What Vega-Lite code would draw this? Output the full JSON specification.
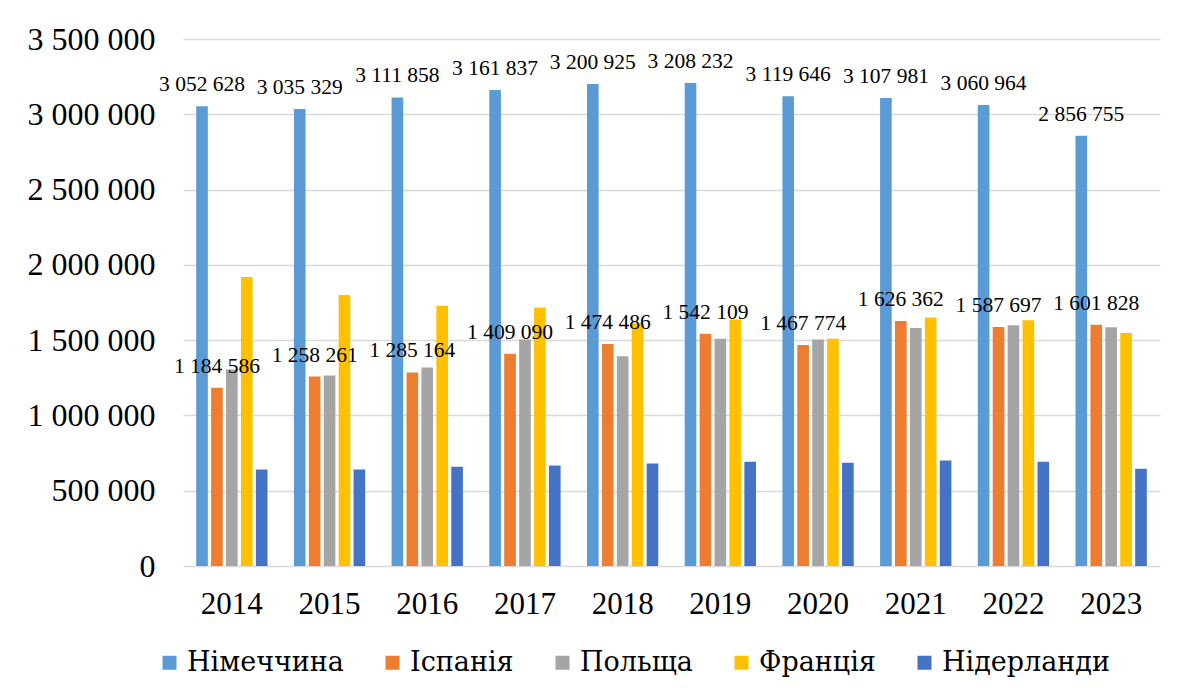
{
  "$schema": "https://vega.github.io/schema/vega-lite/v6.json",
  "width": 977,
  "height": 527,
  "autosize": {"type": "none"},
  "padding": {"left": 183, "top": 39, "right": 27, "bottom": 130},
  "background": "white",
  "config": {
    "locale": {"number": {"decimal": ",", "thousands": " ", "grouping": [3], "currency": ["", ""]}},
    "font": "Liberation Serif",
    "view": {"stroke": null},
    "legend": {
      "labelFont": "DejaVu Serif",
      "labelFontSize": 27,
      "labelLimit": 400,
      "labelColor": "black",
      "symbolType": "square",
      "symbolSize": 196,
      "symbolStrokeWidth": 0,
      "columnPadding": 35,
      "labelOffset": 4,
      "padding": 0
    }
  },
  "data": {
    "values": [
      {"year": "2014", "country": "Німеччина", "value": 3052628},
      {"year": "2015", "country": "Німеччина", "value": 3035329},
      {"year": "2016", "country": "Німеччина", "value": 3111858},
      {"year": "2017", "country": "Німеччина", "value": 3161837},
      {"year": "2018", "country": "Німеччина", "value": 3200925},
      {"year": "2019", "country": "Німеччина", "value": 3208232},
      {"year": "2020", "country": "Німеччина", "value": 3119646},
      {"year": "2021", "country": "Німеччина", "value": 3107981},
      {"year": "2022", "country": "Німеччина", "value": 3060964},
      {"year": "2023", "country": "Німеччина", "value": 2856755},
      {"year": "2014", "country": "Іспанія", "value": 1184586},
      {"year": "2015", "country": "Іспанія", "value": 1258261},
      {"year": "2016", "country": "Іспанія", "value": 1285164},
      {"year": "2017", "country": "Іспанія", "value": 1409090},
      {"year": "2018", "country": "Іспанія", "value": 1474486},
      {"year": "2019", "country": "Іспанія", "value": 1542109},
      {"year": "2020", "country": "Іспанія", "value": 1467774},
      {"year": "2021", "country": "Іспанія", "value": 1626362},
      {"year": "2022", "country": "Іспанія", "value": 1587697},
      {"year": "2023", "country": "Іспанія", "value": 1601828},
      {"year": "2014", "country": "Польща", "value": 1305000},
      {"year": "2015", "country": "Польща", "value": 1266000},
      {"year": "2016", "country": "Польща", "value": 1318000},
      {"year": "2017", "country": "Польща", "value": 1504000},
      {"year": "2018", "country": "Польща", "value": 1393000},
      {"year": "2019", "country": "Польща", "value": 1510000},
      {"year": "2020", "country": "Польща", "value": 1504000},
      {"year": "2021", "country": "Польща", "value": 1581000},
      {"year": "2022", "country": "Польща", "value": 1599000},
      {"year": "2023", "country": "Польща", "value": 1586000},
      {"year": "2014", "country": "Франція", "value": 1920000},
      {"year": "2015", "country": "Франція", "value": 1799000},
      {"year": "2016", "country": "Франція", "value": 1728000},
      {"year": "2017", "country": "Франція", "value": 1717000},
      {"year": "2018", "country": "Франція", "value": 1612000},
      {"year": "2019", "country": "Франція", "value": 1637000},
      {"year": "2020", "country": "Франція", "value": 1510000},
      {"year": "2021", "country": "Франція", "value": 1650000},
      {"year": "2022", "country": "Франція", "value": 1632000},
      {"year": "2023", "country": "Франція", "value": 1548000},
      {"year": "2014", "country": "Нідерланди", "value": 641000},
      {"year": "2015", "country": "Нідерланди", "value": 641000},
      {"year": "2016", "country": "Нідерланди", "value": 659000},
      {"year": "2017", "country": "Нідерланди", "value": 668000},
      {"year": "2018", "country": "Нідерланди", "value": 681000},
      {"year": "2019", "country": "Нідерланди", "value": 693000},
      {"year": "2020", "country": "Нідерланди", "value": 686000},
      {"year": "2021", "country": "Нідерланди", "value": 701000},
      {"year": "2022", "country": "Нідерланди", "value": 693000},
      {"year": "2023", "country": "Нідерланди", "value": 646000}
    ]
  },
  "layer": [
    {
      "mark": {"type": "bar"},
      "encoding": {
        "x": {
          "field": "year",
          "type": "nominal",
          "sort": "ascending",
          "scale": {"paddingInner": 0.27, "paddingOuter": 0.135},
          "axis": {
            "title": null,
            "labelAngle": 0,
            "labelFontSize": 31,
            "labelColor": "black",
            "ticks": false,
            "domain": false,
            "labelPadding": 23
          }
        },
        "xOffset": {
          "field": "country",
          "type": "nominal",
          "scale": {
            "domain": ["Німеччина", "Іспанія", "Польща", "Франція", "Нідерланди"],
            "paddingInner": 0.22,
            "paddingOuter": 0
          }
        },
        "y": {
          "field": "value",
          "type": "quantitative",
          "scale": {"domain": [0, 3500000], "nice": false},
          "axis": {
            "title": null,
            "values": [0, 500000, 1000000, 1500000, 2000000, 2500000, 3000000, 3500000],
            "format": ",d",
            "labelFontSize": 32,
            "labelColor": "black",
            "ticks": false,
            "domain": false,
            "gridColor": "#D9D9D9",
            "gridWidth": 1.5,
            "labelPadding": 28
          }
        },
        "color": {
          "field": "country",
          "type": "nominal",
          "scale": {
            "domain": ["Німеччина", "Іспанія", "Польща", "Франція", "Нідерланди"],
            "range": ["#5B9BD5", "#ED7D31", "#A5A5A5", "#FFC000", "#4472C4"]
          },
          "legend": {
            "orient": "none",
            "direction": "horizontal",
            "legendX": -27,
            "legendY": 610,
            "title": null
          }
        }
      }
    },
    {
      "transform": [{"filter": "datum.country === 'Німеччина' || datum.country === 'Іспанія'"}],
      "mark": {"type": "text", "baseline": "alphabetic", "dy": -15, "fontSize": 21.5, "color": "black"},
      "encoding": {
        "x": {"field": "year", "type": "nominal", "sort": "ascending"},
        "xOffset": {
          "field": "country",
          "type": "nominal",
          "scale": {"domain": ["Німеччина", "Іспанія", "Польща", "Франція", "Нідерланди"]}
        },
        "y": {"field": "value", "type": "quantitative"},
        "text": {"field": "value", "type": "quantitative", "format": ","}
      }
    }
  ]
}
